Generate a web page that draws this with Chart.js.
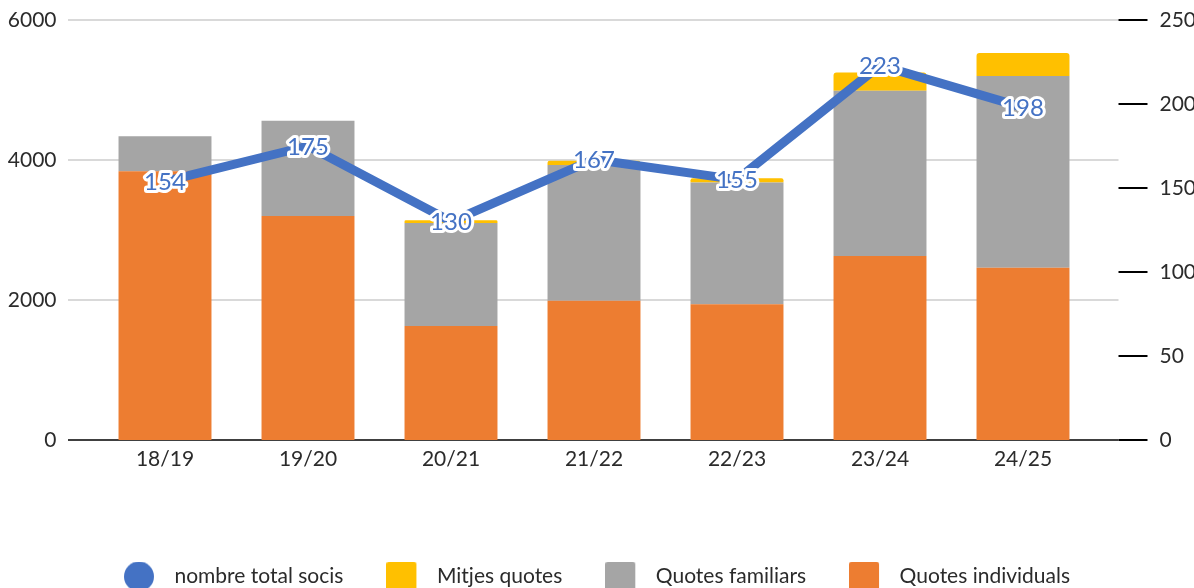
<!DOCTYPE html>
<html>
<head>
<meta charset="utf-8">
<script src="https://cdn.jsdelivr.net/npm/chart.js@4"></script>
<style>
  html, body { margin: 0; padding: 0; background: #fff; overflow: hidden; }
  canvas { display: block; }
</style>
</head>
<body>
<canvas id="c" width="1194" height="597"></canvas>
<script>
const categories = ['18/19', '19/20', '20/21', '21/22', '22/23', '23/24', '24/25'];
const quotesIndividuals = [3840, 3200, 1630, 1990, 1940, 2630, 2460];
const quotesFamiliars = [500, 1360, 1470, 1940, 1740, 2360, 2740];
const mitjesQuotes = [0, 0, 40, 60, 60, 260, 330];
const totalSocis = [154, 175, 130, 167, 155, 223, 198];
const leftTicks = [0, 2000, 4000, 6000];
const rightTicks = [0, 50, 100, 150, 200, 250];

const BLUE = '#4472C4', ORANGE = '#ED7D31', GRAY = '#A5A5A5', YELLOW = '#FFC000';
const TEXT = '#2b2b2b';
const FONT = 'Lato, "Open Sans", sans-serif';

function marker(color, circle) {
  const cv = document.createElement('canvas');
  cv.width = 40; cv.height = 30;
  const g = cv.getContext('2d');
  g.fillStyle = color;
  g.beginPath();
  if (circle) { g.arc(15, 15, 15, 0, Math.PI * 2); }
  else if (g.roundRect) { g.roundRect(0, 0, 30, 30, 3); }
  else { g.rect(0, 0, 30, 30); }
  g.fill();
  return cv;
}
const markers = [marker(BLUE, true), marker(ORANGE), marker(GRAY), marker(YELLOW)];
const legendRank = {0: 0, 3: 1, 2: 2, 1: 3};

const gridPlugin = {
  id: 'gridPlugin',
  beforeDatasetsDraw(chart) {
    const {ctx, chartArea, scales} = chart;
    ctx.save();
    ctx.lineWidth = 2;
    leftTicks.forEach(v => {
      const y = Math.round(scales.y.getPixelForValue(v));
      ctx.strokeStyle = v === 0 ? '#404040' : '#d9d9d9';
      ctx.beginPath();
      ctx.moveTo(chartArea.left - 25.5, y);
      ctx.lineTo(chartArea.right + 24, y);
      ctx.stroke();
    });
    ctx.strokeStyle = '#000';
    rightTicks.forEach(v => {
      const y = Math.round(scales.y1.getPixelForValue(v));
      ctx.beginPath();
      ctx.moveTo(chartArea.right + 24, y);
      ctx.lineTo(chartArea.right + 53, y);
      ctx.stroke();
    });
    ctx.restore();
  }
};

const labelPlugin = {
  id: 'labelPlugin',
  afterDatasetsDraw(chart) {
    const {ctx} = chart;
    const meta = chart.getDatasetMeta(0);
    ctx.save();
    ctx.font = '24px ' + FONT;
    ctx.textAlign = 'center';
    ctx.textBaseline = 'middle';
    ctx.lineJoin = 'round';
    meta.data.forEach((pt, i) => {
      const t = String(totalSocis[i]);
      ctx.strokeStyle = '#ffffff';
      ctx.lineWidth = 6;
      ctx.strokeText(t, pt.x, pt.y + 1);
      ctx.fillStyle = BLUE;
      ctx.fillText(t, pt.x, pt.y + 1);
    });
    ctx.restore();
  }
};

function build() {
  new Chart(document.getElementById('c'), {
    data: {
      labels: categories,
      datasets: [
        { type: 'line', label: 'nombre total socis', data: totalSocis, yAxisID: 'y1',
          borderColor: BLUE, backgroundColor: BLUE, borderWidth: 9, pointRadius: 0,
          tension: 0, order: 0, borderCapStyle: 'round', borderJoinStyle: 'round' },
        { type: 'bar', label: 'Quotes individuals', data: quotesIndividuals, yAxisID: 'y',
          backgroundColor: ORANGE, borderWidth: 0, order: 1, stack: 's' },
        { type: 'bar', label: 'Quotes familiars', data: quotesFamiliars, yAxisID: 'y',
          backgroundColor: GRAY, borderWidth: 0, order: 1, stack: 's' },
        { type: 'bar', label: 'Mitjes quotes', data: mitjesQuotes, yAxisID: 'y',
          backgroundColor: YELLOW, borderWidth: 0, borderRadius: 3, order: 1, stack: 's' }
      ]
    },
    options: {
      responsive: false,
      animation: false,
      events: [],
      layout: { padding: { top: 20, left: 0, right: 0, bottom: 0 } },
      datasets: { bar: { barPercentage: 0.65, categoryPercentage: 1 } },
      scales: {
        x: {
          stacked: true,
          grid: { display: false, drawTicks: false },
          border: { display: false },
          ticks: { color: TEXT, font: { family: FONT, size: 21 }, padding: 7, maxRotation: 0 },
          afterFit(s) { s.height = 83; s.paddingLeft = 0; s.paddingRight = 0; }
        },
        y: {
          stacked: true, position: 'left', min: 0, max: 6000,
          grid: { display: false, drawTicks: false },
          border: { display: false },
          afterBuildTicks(s) { s.ticks = leftTicks.map(v => ({ value: v })); },
          ticks: { color: TEXT, font: { family: FONT, size: 21 }, padding: 37, callback: v => String(v) },
          afterFit(s) { s.width = 93.5; s.paddingTop = 0; s.paddingBottom = 0; }
        },
        y1: {
          position: 'right', min: 0, max: 250,
          grid: { display: false, drawTicks: false },
          border: { display: false },
          afterBuildTicks(s) { s.ticks = rightTicks.map(v => ({ value: v })); },
          ticks: { color: TEXT, font: { family: FONT, size: 21 }, padding: 65, callback: v => String(v) },
          afterFit(s) { s.width = 99.5; s.paddingTop = 0; s.paddingBottom = 0; }
        }
      },
      plugins: {
        tooltip: { enabled: false },
        legend: {
          position: 'bottom',
          align: 'center',
          labels: {
            color: TEXT,
            font: { family: FONT, size: 21 },
            usePointStyle: true,
            pointStyleWidth: 40,
            padding: 43,
            generateLabels(chart) {
              const items = Chart.defaults.plugins.legend.labels.generateLabels(chart);
              items.forEach(it => { it.pointStyle = markers[it.datasetIndex]; });
              return items;
            },
            sort(a, b) { return legendRank[a.datasetIndex] - legendRank[b.datasetIndex]; }
          }
        }
      }
    },
    plugins: [gridPlugin, labelPlugin]
  });
}

if (document.fonts && document.fonts.load) {
  Promise.all([document.fonts.load('21px Lato'), document.fonts.load('24px Lato')])
    .then(build, build);
} else {
  build();
}
</script>
</body>
</html>
